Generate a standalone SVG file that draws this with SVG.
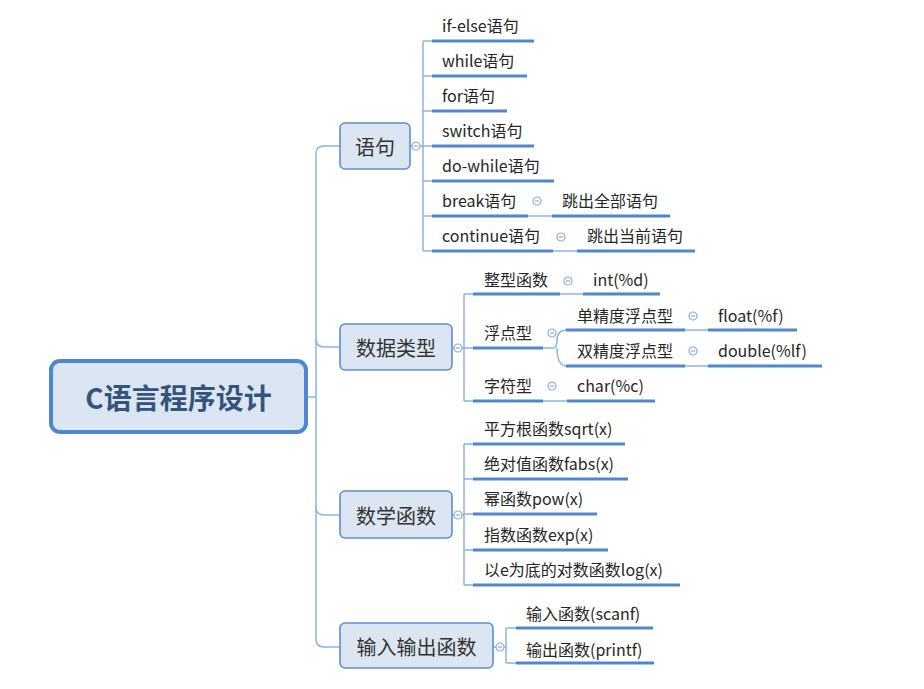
<svg xmlns="http://www.w3.org/2000/svg" width="924" height="689" viewBox="0 0 924 689">
<style>
.t{font-family:"Noto Sans CJK SC","Noto Sans",sans-serif;font-size:16px;fill:#262626;dominant-baseline:central}
.m{font-family:"Noto Sans CJK SC","Noto Sans",sans-serif;font-size:20px;fill:#333;dominant-baseline:central;text-anchor:middle}
.r{font-family:"Noto Sans CJK SC","Noto Sans",sans-serif;font-size:28px;font-weight:bold;fill:#35547c;dominant-baseline:central;text-anchor:middle}
.nb{fill:#dce6f2;stroke:#5b8ed6;stroke-width:1.6}
.ln{fill:none;stroke:#8db3e2;stroke-width:1.5}
.ul{fill:none;stroke:#4f86d0;stroke-width:3}
.cc{fill:#fff;stroke:#8aaedd;stroke-width:1.2}
.cm{stroke:#8aaedd;stroke-width:1.2}
</style>
<defs>
<g id="col"><circle class="cc" r="4"/><line class="cm" x1="-2.2" y1="0" x2="2.2" y2="0"/></g>
</defs>
<g id="connectors">
<path class="ln" d="M307,397 H316"/>
<path class="ln" d="M340,146 H324 Q316,146 316,154 V639 Q316,647 324,647 H340"/>
<path class="ln" d="M316,339 Q316,347 324,347 H340"/>
<path class="ln" d="M316,507 Q316,515 324,515 H340"/>
<path class="ln" d="M410,146 H423 M423,41 V251 M423,41 H432 M423,76 H432 M423,111 H432 M423,146 H432 M423,181 H432 M423,216 H432 M423,251 H432"/>
<path class="ln" d="M528,216 H552 M553,251 H577"/>
<path class="ln" d="M452,348 H464 M464,294 V401 M464,294 H473 M464,348 H473 M464,401 H473"/>
<path class="ln" d="M560,294 H583 M543,401 H567"/>
<path class="ln" d="M543,348 H553 Q557,348 557,340 Q557,330 567,330 M557,348 Q557,366 567,366"/>
<path class="ln" d="M685,330 H708 M685,366 H708"/>
<path class="ln" d="M452,515 H464 M464,444 V585 M464,444 H473 M464,479 H473 M464,514 H473 M464,550 H473 M464,585 H473"/>
<path class="ln" d="M493,647 H506 M506,628 V663 M506,628 H516 M506,663 H516"/>
</g>
<g id="root">
<rect x="51" y="361" width="255" height="71" rx="9" fill="#dce6f2" stroke="#4f86d0" stroke-width="4"/>
<text class="r" x="178.5" y="397">C语言程序设计</text>
</g>
<g id="n-yuju">
<rect class="nb" x="340" y="123" width="70" height="46" rx="5"/>
<text class="m" x="375" y="146">语句</text>
<use href="#col" x="416" y="146"/>
</g>
<g id="n-ifelse"><line class="ul" x1="432" y1="41" x2="534" y2="41"/><text class="t" x="442" y="25">if-else语句</text></g>
<g id="n-while"><line class="ul" x1="432" y1="76" x2="527" y2="76"/><text class="t" x="442" y="60">while语句</text></g>
<g id="n-for"><line class="ul" x1="432" y1="111" x2="507" y2="111"/><text class="t" x="442" y="95">for语句</text></g>
<g id="n-switch"><line class="ul" x1="432" y1="146" x2="534" y2="146"/><text class="t" x="442" y="130">switch语句</text></g>
<g id="n-dowhile"><line class="ul" x1="432" y1="181" x2="554" y2="181"/><text class="t" x="442" y="165">do-while语句</text></g>
<g id="n-break"><line class="ul" x1="432" y1="216" x2="528" y2="216"/><text class="t" x="442" y="200">break语句</text><use href="#col" x="537" y="201"/></g>
<g id="n-break-d"><line class="ul" x1="552" y1="216" x2="670" y2="216"/><text class="t" x="562" y="200">跳出全部语句</text></g>
<g id="n-continue"><line class="ul" x1="432" y1="251" x2="553" y2="251"/><text class="t" x="442" y="235">continue语句</text><use href="#col" x="561" y="237"/></g>
<g id="n-continue-d"><line class="ul" x1="577" y1="251" x2="695" y2="251"/><text class="t" x="587" y="235">跳出当前语句</text></g>
<g id="n-types">
<rect class="nb" x="340" y="324" width="112" height="46" rx="5"/>
<text class="m" x="396" y="347">数据类型</text>
<use href="#col" x="458" y="348"/>
</g>
<g id="n-int"><line class="ul" x1="473" y1="294" x2="560" y2="294"/><text class="t" x="484" y="279">整型函数</text><use href="#col" x="568" y="281"/></g>
<g id="n-int-d"><line class="ul" x1="583" y1="294" x2="660" y2="294"/><text class="t" x="593" y="279">int(%d)</text></g>
<g id="n-float"><line class="ul" x1="473" y1="348" x2="543" y2="348"/><text class="t" x="484" y="332">浮点型</text><use href="#col" x="552" y="333"/></g>
<g id="n-single"><line class="ul" x1="566" y1="330" x2="685" y2="330"/><text class="t" x="577" y="315">单精度浮点型</text><use href="#col" x="693" y="316"/></g>
<g id="n-single-d"><line class="ul" x1="708" y1="330" x2="797" y2="330"/><text class="t" x="718" y="315">float(%f)</text></g>
<g id="n-double"><line class="ul" x1="566" y1="366" x2="685" y2="366"/><text class="t" x="577" y="350">双精度浮点型</text><use href="#col" x="693" y="351"/></g>
<g id="n-double-d"><line class="ul" x1="708" y1="366" x2="822" y2="366"/><text class="t" x="718" y="350">double(%lf)</text></g>
<g id="n-char"><line class="ul" x1="473" y1="401" x2="543" y2="401"/><text class="t" x="484" y="385">字符型</text><use href="#col" x="552" y="386"/></g>
<g id="n-char-d"><line class="ul" x1="567" y1="401" x2="655" y2="401"/><text class="t" x="577" y="385">char(%c)</text></g>
<g id="n-math">
<rect class="nb" x="340" y="491" width="112" height="47" rx="5"/>
<text class="m" x="396" y="515">数学函数</text>
<use href="#col" x="458" y="515"/>
</g>
<g id="n-sqrt"><line class="ul" x1="473" y1="444" x2="625" y2="444"/><text class="t" x="484" y="428">平方根函数sqrt(x)</text></g>
<g id="n-fabs"><line class="ul" x1="473" y1="479" x2="628" y2="479"/><text class="t" x="484" y="463">绝对值函数fabs(x)</text></g>
<g id="n-pow"><line class="ul" x1="473" y1="514" x2="597" y2="514"/><text class="t" x="484" y="498">幂函数pow(x)</text></g>
<g id="n-exp"><line class="ul" x1="473" y1="550" x2="608" y2="550"/><text class="t" x="484" y="534">指数函数exp(x)</text></g>
<g id="n-log"><line class="ul" x1="473" y1="585" x2="680" y2="585"/><text class="t" x="484" y="569">以e为底的对数函数log(x)</text></g>
<g id="n-io">
<rect class="nb" x="340" y="623" width="153" height="45" rx="5"/>
<text class="m" x="416.5" y="646">输入输出函数</text>
<use href="#col" x="500" y="647"/>
</g>
<g id="n-scanf"><line class="ul" x1="516" y1="628" x2="653" y2="628"/><text class="t" x="526" y="613">输入函数(scanf)</text></g>
<g id="n-printf"><line class="ul" x1="516" y1="663" x2="654" y2="663"/><text class="t" x="526" y="649">输出函数(printf)</text></g>
</svg>
